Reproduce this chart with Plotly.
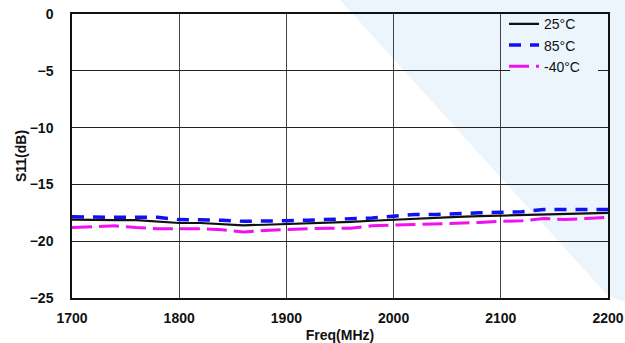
import plotly.graph_objects as go

freq = [1700, 1720, 1740, 1760, 1780, 1800, 1820, 1840, 1860, 1880, 1900, 1920, 1940,
        1960, 1980, 2000, 2020, 2040, 2060, 2080, 2100, 2120, 2140, 2160, 2180, 2200]

s11_25c = [-18.1, -18.15, -18.15, -18.15, -18.3, -18.4, -18.4, -18.5, -18.6, -18.55, -18.5,
           -18.45, -18.35, -18.3, -18.2, -18.1, -18.05, -17.95, -17.85, -17.8, -17.75,
           -17.65, -17.6, -17.6, -17.5, -17.5]
s11_85c = [-17.85, -17.9, -17.9, -17.9, -17.9, -18.1, -18.1, -18.15, -18.25, -18.25, -18.2,
           -18.15, -18.1, -18.0, -17.95, -17.8, -17.65, -17.65, -17.55, -17.5, -17.45,
           -17.4, -17.2, -17.2, -17.2, -17.2]
s11_m40c = [-18.8, -18.75, -18.65, -18.8, -18.9, -18.9, -18.9, -19.0, -19.2, -19.05, -18.95,
            -18.9, -18.85, -18.85, -18.65, -18.6, -18.5, -18.5, -18.4, -18.35, -18.25,
            -18.2, -18.0, -18.1, -18.0, -17.9]

series_names = ["25°C", "85°C", "-40°C"]
x_ticks = [1700, 1800, 1900, 2000, 2100, 2200]
y_ticks = [0, -5, -10, -15, -20, -25]

fig = go.Figure()
fig.add_trace(go.Scatter(x=freq, y=s11_25c, mode="lines", name=series_names[0],
                         line=dict(color="#111111", width=2.2)))
fig.add_trace(go.Scatter(x=freq, y=s11_85c, mode="lines", name=series_names[1],
                         line=dict(color="#1010f0", width=3.5, dash="12px,9px")))
fig.add_trace(go.Scatter(x=freq, y=s11_m40c, mode="lines", name=series_names[2],
                         line=dict(color="#f010f0", width=3, dash="20px,7px")))

W, H = 625, 343
L, R, T, B = 72, 17, 14, 45
pw, ph = W - L - R, H - T - B


def px(x, y):
    return (x - L) / pw, (H - B - y) / ph

pts = [px(340, 0), px(608, 296), px(625, 302), px(625, 0)]
path = "M " + " L ".join(f"{a:.4f},{b:.4f}" for a, b in pts) + " Z"
fig.add_shape(type="path", path=path, xref="paper", yref="paper",
              fillcolor="#edf5fc", line=dict(width=0), layer="below")

FAM = "Liberation Sans, Arial, sans-serif"
font = dict(family=FAM, size=14, color="#111111")

fig.update_layout(
    width=W, height=H,
    margin=dict(l=L, r=R, t=T, b=B, autoexpand=False),
    paper_bgcolor="white",
    plot_bgcolor="rgba(0,0,0,0)",
    font=font,
    showlegend=True,
    legend=dict(x=0.806, y=1.02, xanchor="left", yanchor="top",
                bgcolor="rgba(0,0,0,0)", borderwidth=0,
                font=dict(family=FAM, size=14, color="#111111"),
                tracegroupgap=0),
)
fig.update_xaxes(
    range=[1700, 2200], tickvals=x_ticks, showgrid=True, gridcolor="#444444", gridwidth=1,
    showline=True, linecolor="#111111", linewidth=1.5, mirror=True, zeroline=False,
    ticks="", automargin=False, ticklabelstandoff=6,
    tickfont=dict(family=FAM, size=14, color="#111111", weight="bold"),
    title=dict(text="<b>Freq(MHz)</b>", standoff=8,
               font=dict(family=FAM, size=14, color="#111111")),
)
fig.update_yaxes(
    range=[-25, 0], tickvals=y_ticks, showgrid=True, gridcolor="#222222", gridwidth=1,
    showline=True, linecolor="#111111", linewidth=1.5, mirror=True, zeroline=False,
    ticks="", automargin=False, ticklabelstandoff=14,
    tickfont=dict(family=FAM, size=14, color="#111111", weight="bold"),
    title=dict(text="<b>S11(dB)</b>", standoff=0,
               font=dict(family=FAM, size=14, color="#111111")),
)

# legend background patch (covers the -5 gridline like the reference's legend box)
lx0, ly0 = px(510, 14)
lx1, ly1 = px(598, 76)
fig.add_shape(type="rect", xref="paper", yref="paper", x0=lx0, x1=lx1, y0=ly1, y1=ly0,
              fillcolor="#edf5fc", line=dict(width=0), layer="above")

fig.write_html("out.html")
